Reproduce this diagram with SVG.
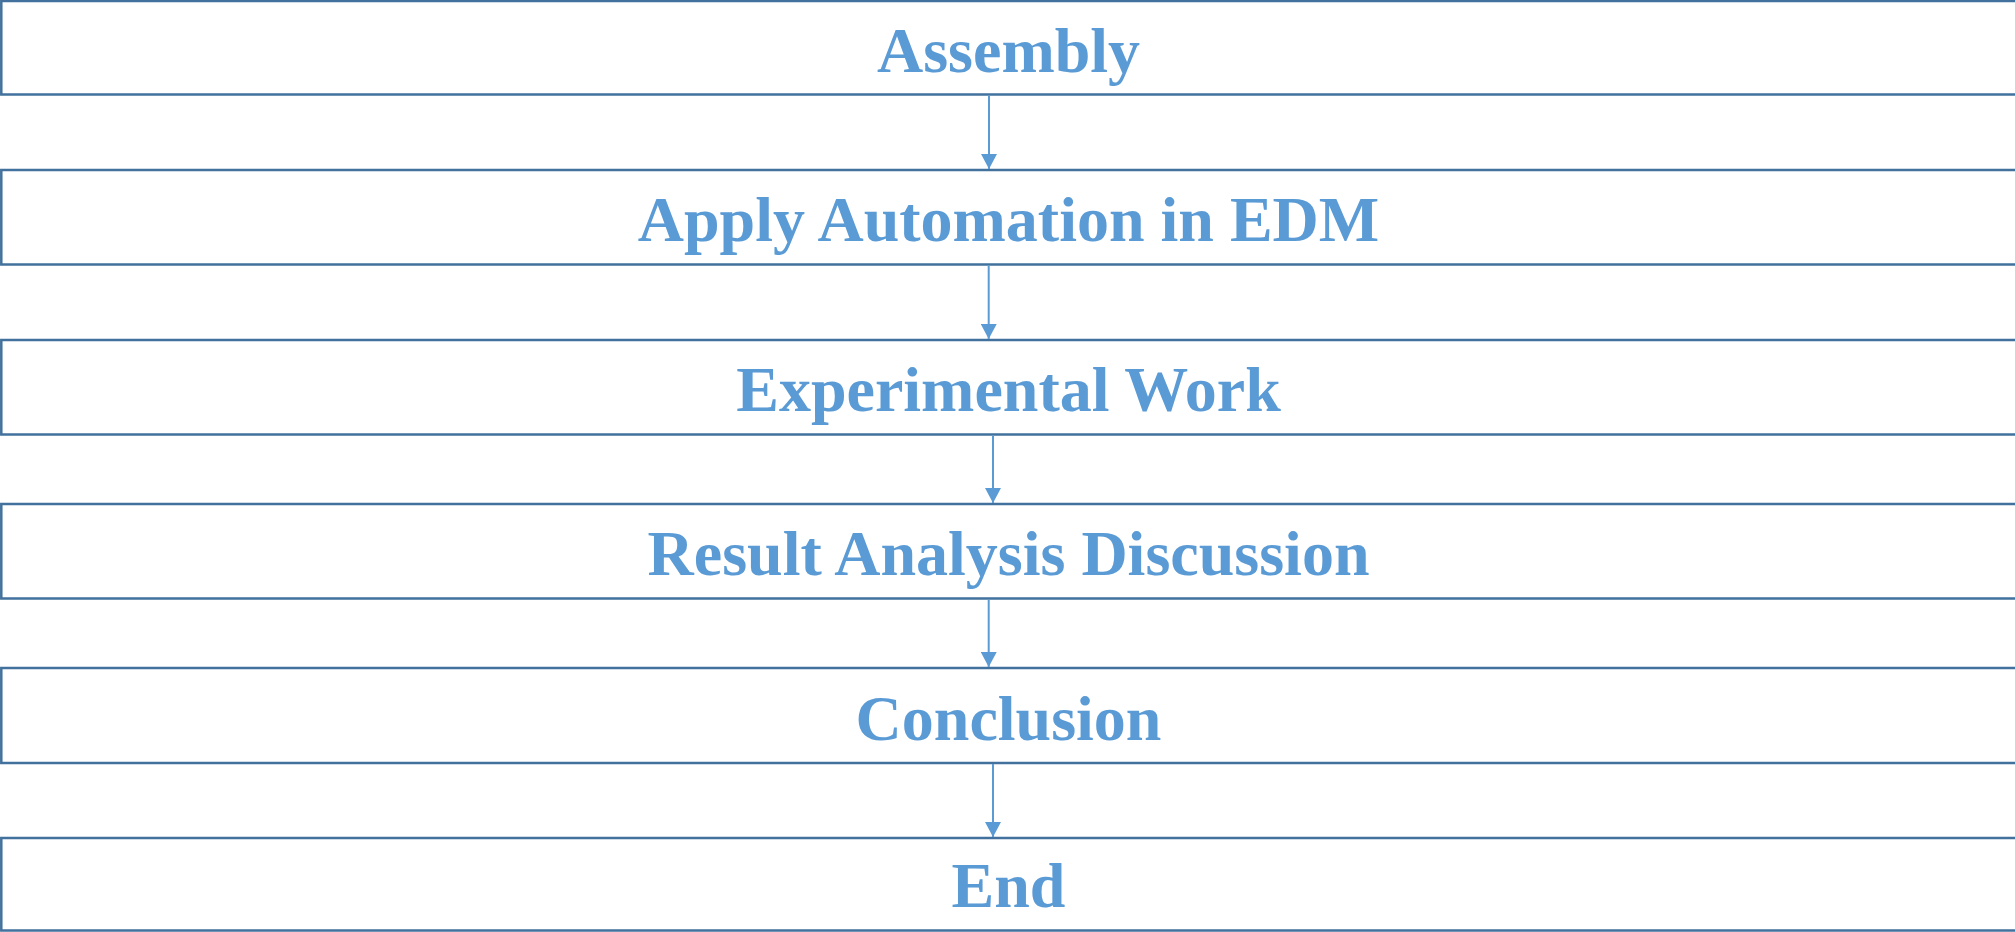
<svg xmlns="http://www.w3.org/2000/svg" width="2015" height="932" viewBox="0 0 2015 932">
  <style>
    .box { fill: #ffffff; stroke: #41719C; stroke-width: 2.5; }
    .label { font-family: "Liberation Serif", "Times New Roman", serif; font-weight: bold; font-size: 64px; fill: #5B9BD5; text-anchor: middle; }
    .link { stroke: #5B9BD5; stroke-width: 2; fill: none; }
  </style>
  <defs>
    <marker id="arrow" markerUnits="userSpaceOnUse" markerWidth="16" markerHeight="16" refX="15" refY="8" orient="auto">
      <path d="M0,0 L15,8 L0,16 Z" fill="#5B9BD5"/>
    </marker>
  </defs>
  <rect width="2015" height="932" fill="#ffffff"/>

  <g id="node-assembly">
    <rect class="box" x="1.3" y="1" width="2030" height="93.5"/>
    <text class="label" x="1008.5" y="72">Assembly</text>
  </g>
  <g id="node-automation">
    <rect class="box" x="1.3" y="170" width="2030" height="94.5"/>
    <text class="label" x="1008.5" y="241">Apply Automation in EDM</text>
  </g>
  <g id="node-experimental">
    <rect class="box" x="1.3" y="340" width="2030" height="94.5"/>
    <text class="label" x="1008.5" y="411">Experimental Work</text>
  </g>
  <g id="node-result">
    <rect class="box" x="1.3" y="504" width="2030" height="94.5"/>
    <text class="label" x="1008.5" y="574.5">Result Analysis Discussion</text>
  </g>
  <g id="node-conclusion">
    <rect class="box" x="1.3" y="668" width="2030" height="95"/>
    <text class="label" x="1008.5" y="739.5">Conclusion</text>
  </g>
  <g id="node-end">
    <rect class="box" x="1.3" y="838" width="2030" height="92.5"/>
    <text class="label" x="1008.5" y="907">End</text>
  </g>

  <g id="connectors">
    <line class="link" x1="989" y1="95.5" x2="989" y2="169" marker-end="url(#arrow)"/>
    <line class="link" x1="988.7" y1="265.5" x2="988.7" y2="339" marker-end="url(#arrow)"/>
    <line class="link" x1="993" y1="435.5" x2="993" y2="503" marker-end="url(#arrow)"/>
    <line class="link" x1="988.7" y1="599.5" x2="988.7" y2="667" marker-end="url(#arrow)"/>
    <line class="link" x1="993" y1="764" x2="993" y2="837" marker-end="url(#arrow)"/>
  </g>
</svg>
